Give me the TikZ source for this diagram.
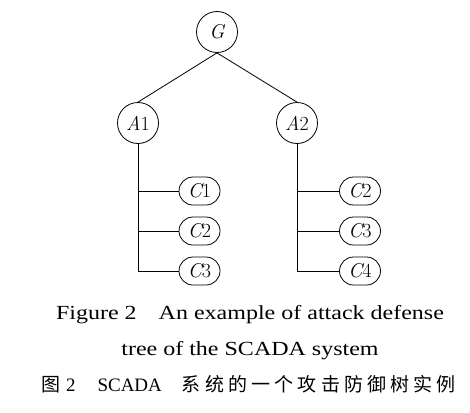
\documentclass[tikz,border=0pt]{standalone}
\usepackage{fontspec}
\setmainfont{Liberation Serif}
\newfontfamily\capfont[FakeStretch=1.2]{Liberation Serif}
\newfontfamily\labelfont{Latin Modern Roman}
\newfontfamily\cjk[LetterSpace=22]{Noto Sans CJK SC}
\newcommand{\nodelabel}[2]{{\itshape #1}#2}
\usetikzlibrary{
    positioning
}

\begin{document}
\begin{tikzpicture}[
    x=1pt, y=1pt,
    on grid,
    event/.style={
        draw,
        circle,
        line width=0.8pt,
        minimum size=41pt,
        inner sep=0pt,
        font=\labelfont\fontsize{20}{22}\selectfont
    },
    leaf/.style={
        draw,
        rounded corners=14pt,
        line width=0.8pt,
        minimum width=41pt,
        minimum height=28pt,
        inner sep=0pt,
        font=\labelfont\fontsize{20}{22}\selectfont
    },
    branch/.style={
        line width=0.8pt
    },
    captext/.style={
        anchor=base,
        inner sep=0pt
    }
]
\useasboundingbox (0,0) rectangle (470,-412);

% root and attack nodes
\node[event] (G) at (217,-32) {\nodelabel{G}{}};
\node[event, below left=91pt and 79pt of G] (A1) {\nodelabel{A}{1}};
\node[event, below right=91pt and 80pt of G] (A2) {\nodelabel{A}{2}};

% leaves of A1
\node[leaf, below right=68pt and 61.5pt of A1] (C1a) {\nodelabel{C}{1}};
\node[leaf, below=40pt of C1a] (C2a) {\nodelabel{C}{2}};
\node[leaf, below=40pt of C2a] (C3a) {\nodelabel{C}{3}};

% leaves of A2
\node[leaf, below right=68pt and 63pt of A2] (C2b) {\nodelabel{C}{2}};
\node[leaf, below=40pt of C2b] (C3b) {\nodelabel{C}{3}};
\node[leaf, below=40pt of C3b] (C4b) {\nodelabel{C}{4}};

\draw[branch] (G.south) -- (A1.north);
\draw[branch] (G.south) -- (A2.north);
\foreach \leafname in {C1a,C2a,C3a}
    \draw[branch] (A1.south) |- (\leafname.west);
\foreach \leafname in {C2b,C3b,C4b}
    \draw[branch] (A2.south) |- (\leafname.west);

% caption
\node[captext] (capen) at (250,-319) {%
    \capfont\fontsize{20}{24}\selectfont Figure 2\hspace{22pt}An example of attack defense};
\node[captext] (capen2) at (250,-355) {%
    \capfont\fontsize{20}{24}\selectfont tree of the SCADA system};
\node[captext] (capzh) at (248.5,-391.5) {%
    \fontsize{19}{22}\selectfont{\cjk\fontsize{19}{22}\selectfont 图}\hspace{6pt}2\hspace{22pt}SCADA\hspace{20pt}{\cjk\fontsize{19}{22}\selectfont 系统的一个攻击防御树实例}};

\end{tikzpicture}
\end{document}
